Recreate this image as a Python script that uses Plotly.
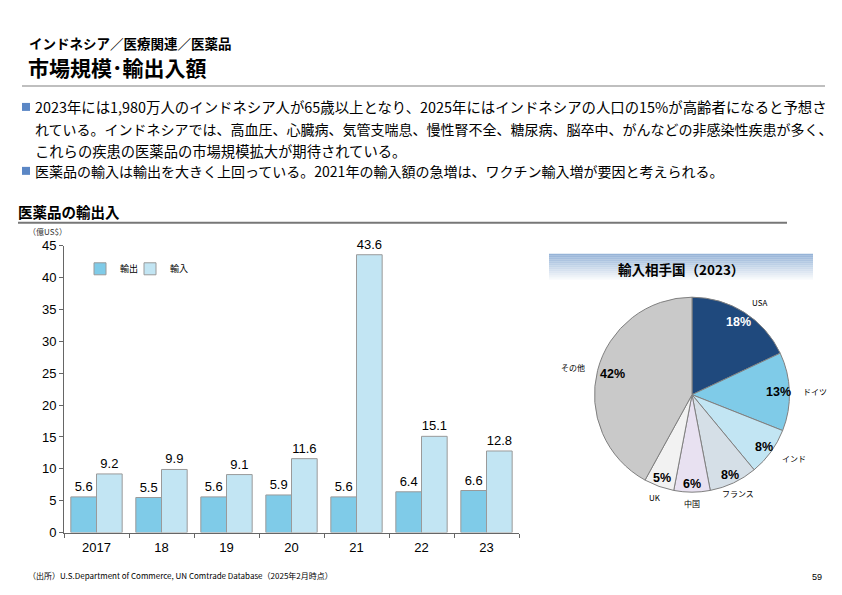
import math
import plotly.graph_objects as go

# ---------------- data ----------------
years = ["2017", "18", "19", "20", "21", "22", "23"]
exports = [5.6, 5.5, 5.6, 5.9, 5.6, 6.4, 6.6]
imports = [9.2, 9.9, 9.1, 11.6, 43.6, 15.1, 12.8]
y_ticks = [0, 5, 10, 15, 20, 25, 30, 35, 40, 45]

partners = ["USA", "ドイツ", "インド", "フランス", "中国", "UK", "その他"]
shares = [18, 13, 8, 8, 6, 5, 42]
partner_colors = ["#1F497D", "#7FCBE8", "#C2E5F3", "#D5DFE7", "#E8E1F1", "#F2F2F2", "#C9C9C9"]
share_text_colors = ["#FFFFFF", "#000000", "#000000", "#000000", "#000000", "#000000", "#000000"]

bullets = [
    "2023年には1,980万人のインドネシア人が65歳以上となり、2025年にはインドネシアの人口の15%が高齢者になると予想さ",
    "れている。インドネシアでは、高血圧、心臓病、気管支喘息、慢性腎不全、糖尿病、脳卒中、がんなどの非感染性疾患が多く、",
    "これらの疾患の医薬品の市場規模拡大が期待されている。",
    "医薬品の輸入は輸出を大きく上回っている。2021年の輸入額の急増は、ワクチン輸入増が要因と考えられる。",
]

W, H = 842, 595
JP = "Noto Sans CJK JP"
LAT = "Liberation Sans, Noto Sans CJK JP"

# vertical calibration of the captured page (observed offset/scale)
V_OFF, V_SCALE = 6.0, 0.9756


def px(x):
    return x / W


def py(y):
    return 1 - ((y - V_OFF) / V_SCALE) / H


fig = go.Figure()

fig.add_trace(go.Bar(
    x=years, y=exports, name="輸出",
    marker=dict(color="#7FCBE8", line=dict(color="#9A9A9A", width=1)),
    text=[f"{v:.1f}" for v in exports], textposition="outside",
    textfont=dict(family=LAT, size=13, color="#000000"),
    cliponaxis=False, legend="legend",
))
fig.add_trace(go.Bar(
    x=years, y=imports, name="輸入",
    marker=dict(color="#C2E5F3", line=dict(color="#9A9A9A", width=1)),
    text=[f"{v:.1f}" for v in imports], textposition="outside",
    textfont=dict(family=LAT, size=13, color="#000000"),
    cliponaxis=False, legend="legend2",
))

# pie geometry (layout)
PIE_CX, PIE_CY, PIE_R = 692, 394, 99
R_DES = 100
cy_frac = py(PIE_CY)
half_h = R_DES / H
pie_domain = dict(x=[px(PIE_CX - R_DES), px(PIE_CX + R_DES)],
                  y=[cy_frac - half_h, cy_frac + half_h])
fig.add_trace(go.Pie(
    labels=partners, values=shares, sort=False, direction="clockwise",
    marker=dict(colors=partner_colors, line=dict(color="#808080", width=1)),
    textinfo="none",
    domain=pie_domain, showlegend=False, hoverinfo="label+value",
))

legend_common = dict(orientation="h", yanchor="middle", xanchor="left",
                     font=dict(family=JP, size=9, color="#000000"), itemwidth=30,
                     bgcolor="rgba(0,0,0,0)")
fig.update_layout(
    width=W, height=H,
    margin=dict(l=0, r=0, t=0, b=0),
    paper_bgcolor="white", plot_bgcolor="white",
    barmode="group", bargap=0.21, bargroupgap=0,
    showlegend=True,
    legend=dict(x=px(80), y=py(268), **legend_common),
    legend2=dict(x=px(130), y=py(268), **legend_common),
    xaxis=dict(domain=[px(64), px(519)], type="category",
               showline=True, linecolor="#666666", linewidth=1,
               ticks="outside", tickson="boundaries", ticklen=4, tickcolor="#666666",
               ticklabelstandoff=3,
               tickfont=dict(family=LAT, size=13, color="#000000"), showgrid=False,
               fixedrange=True),
    yaxis=dict(domain=[py(532), py(245)], range=[0, 45], tickvals=y_ticks,
               showline=True, linecolor="#666666", linewidth=1,
               ticks="outside", ticklen=4, tickcolor="#666666",
               tickfont=dict(family=LAT, size=13, color="#000000"), showgrid=False,
               zeroline=False, fixedrange=True),
)

shapes = []
annotations = []

# pie labels placed from the data (mid-angle of each slice)
total = float(sum(shares))
cum = 0.0
for name, v, tc in zip(partners, shares, share_text_colors):
    mid = (cum + v / 2.0) / total * 2 * math.pi
    cum += v
    sx, sy = math.sin(mid), -math.cos(mid)
    rin = 0.83 if v > 30 else (0.9 if v < 10 else 0.87)
    annotations.append(dict(x=px(PIE_CX + sx * PIE_R * rin), y=py(PIE_CY + sy * PIE_R * rin),
                            xref="paper", yref="paper", xanchor="center", yanchor="middle",
                            text=f"<b>{v}%</b>", showarrow=False,
                            font=dict(family=LAT, size=12.5, color=tc)))
    rout = 1.1
    xa = "left" if sx > 0.5 else ("right" if sx < -0.5 else "center")
    annotations.append(dict(x=px(PIE_CX + sx * PIE_R * rout), y=py(PIE_CY + sy * PIE_R * rout),
                            xref="paper", yref="paper", xanchor=xa, yanchor="middle",
                            text=name, showarrow=False,
                            font=dict(family=JP, size=8, color="#000000")))

# header
annotations.append(dict(x=px(27), y=py(42), xref="paper", yref="paper", xanchor="left", yanchor="middle",
                        text="<b>インドネシア／医療関連／医薬品</b>", showarrow=False,
                        font=dict(family=JP, size=13.5, color="#000000")))
annotations.append(dict(x=px(26), y=py(66), xref="paper", yref="paper", xanchor="left", yanchor="middle",
                        text="<b>市場規模･輸出入額</b>", showarrow=False,
                        font=dict(family=JP, size=21, color="#000000")))
shapes.append(dict(type="line", xref="paper", yref="paper", x0=px(22), x1=px(825), y0=py(85), y1=py(85),
                   line=dict(color="#AAAAAA", width=1.5)))

# bullets
line_y = [106, 128, 150, 170]
line_size = [14.4, 14, 14.3, 14]
for i, t in enumerate(bullets):
    annotations.append(dict(x=px(33), y=py(line_y[i]), xref="paper", yref="paper", xanchor="left",
                            yanchor="middle", text=t, showarrow=False,
                            font=dict(family=JP, size=line_size[i], color="#000000")))
for yy in (106, 170):
    shapes.append(dict(type="rect", xref="paper", yref="paper", x0=px(22), x1=px(30),
                       y0=py(yy + 4), y1=py(yy - 4), fillcolor="#5B87C5", line=dict(width=0)))

# section title
annotations.append(dict(x=px(16), y=py(211), xref="paper", yref="paper", xanchor="left", yanchor="middle",
                        text="<b>医薬品の輸出入</b>", showarrow=False,
                        font=dict(family=JP, size=14.5, color="#000000")))
shapes.append(dict(type="line", xref="paper", yref="paper", x0=px(18), x1=px(787), y0=py(222), y1=py(222),
                   line=dict(color="#777777", width=2)))

# unit label
annotations.append(dict(x=px(26), y=py(231), xref="paper", yref="paper", xanchor="left", yanchor="middle",
                        text="（億US$）", showarrow=False,
                        font=dict(family=JP, size=8, color="#333333")))

# pie title box with vertical gradient
top, bot = 253, 281
n = 14
c0 = (149, 179, 215)
c1 = (255, 255, 255)
for k in range(n):
    f = k / (n - 1)
    col = tuple(int(c0[j] + (c1[j] - c0[j]) * f) for j in range(3))
    ya = top + (bot - top) * k / n
    yb = top + (bot - top) * (k + 1) / n
    shapes.append(dict(type="rect", xref="paper", yref="paper", x0=px(549), x1=px(813),
                       y0=py(yb), y1=py(ya), fillcolor="rgb(%d,%d,%d)" % col, line=dict(width=0),
                       layer="below"))
annotations.append(dict(x=px(681), y=py(268), xref="paper", yref="paper", xanchor="center", yanchor="middle",
                        text="<b>輸入相手国（2023）</b>", showarrow=False,
                        font=dict(family=JP, size=13.5, color="#000000")))

# footer
annotations.append(dict(x=px(26), y=py(575), xref="paper", yref="paper", xanchor="left", yanchor="middle",
                        text="（出所）U.S.Department of Commerce, UN Comtrade Database（2025年2月時点）",
                        showarrow=False, font=dict(family=JP, size=8, color="#000000")))
annotations.append(dict(x=px(824), y=py(576), xref="paper", yref="paper", xanchor="right", yanchor="middle",
                        text="59", showarrow=False, font=dict(family=LAT, size=9, color="#000000")))

fig.update_layout(shapes=shapes, annotations=annotations)

page_css = (
    "var gd=document.getElementById('{plot_id}');"
    "var de=document.documentElement,b=document.body;"
    "de.style.margin='0';de.style.padding='0';de.style.overflow='hidden';de.style.height='595px';"
    "b.style.margin='0';b.style.padding='0';b.style.overflow='hidden';b.style.height='595px';"
    "gd.style.position='fixed';gd.style.left='0px';gd.style.top='0px';"
)
fig.write_html("out.html", config={"displayModeBar": False}, post_script=page_css)
